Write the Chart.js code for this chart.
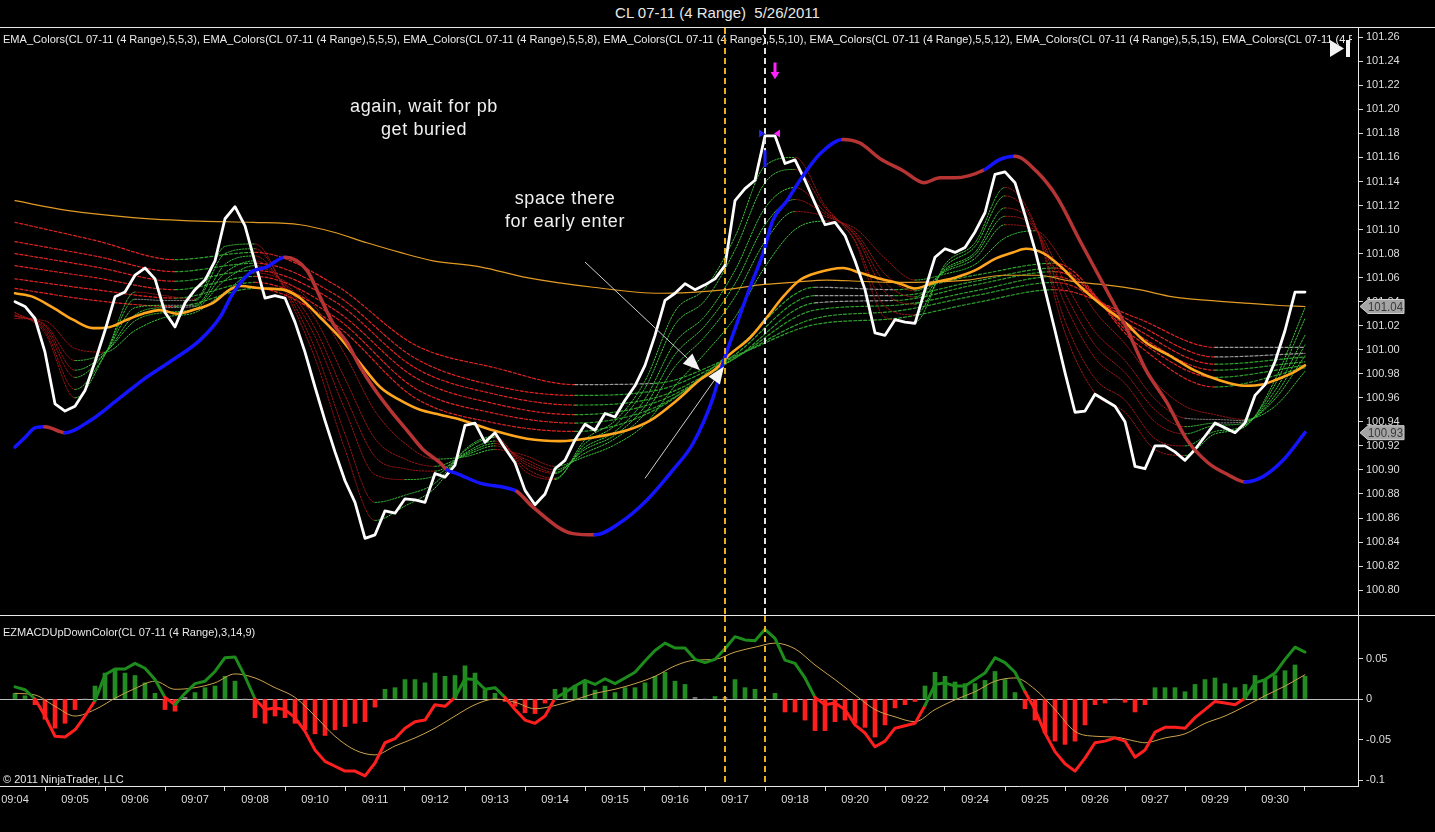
<!DOCTYPE html>
<html>
<head>
<meta charset="utf-8">
<title>CL 07-11 (4 Range) 5/26/2011</title>
<script src="https://cdn.jsdelivr.net/npm/chart.js@4.4.1/dist/chart.umd.min.js"></script>
<style>
  html, body { margin: 0; padding: 0; background: #000; }
  body { width: 1435px; height: 832px; position: relative; overflow: hidden; font-family: 'Liberation Sans', Arial, sans-serif; }
  #title { position: absolute; left: 0; top: 0; width: 1435px; height: 27px; line-height: 26px; text-align: center; color: #e8e8e8; font-size: 15px; white-space: pre; }
  .hr { position: absolute; left: 0; width: 1435px; height: 1px; background: #e8e8e8; }
  canvas { position: absolute; left: 0; }
</style>
</head>
<body>
<div id="title">CL 07-11 (4 Range)  5/26/2011</div>
<div class="hr" style="top:27px"></div>
<canvas id="price" width="1435" height="587" style="top:28px"></canvas>
<div class="hr" style="top:615px"></div>
<canvas id="macd" width="1435" height="216" style="top:616px"></canvas>
<script>
// x values are range-bar numbers (0 = first bar, 129 = last)
var timeTicks = [0, 6, 12, 18, 24, 30, 36, 42, 48, 54, 60, 66, 72, 78, 84, 90, 96, 102, 108, 114, 120, 126];
var timeLabels = ['09:04', '09:05', '09:06', '09:07', '09:08', '09:10', '09:11', '09:12', '09:13', '09:14', '09:15',
  '09:16', '09:17', '09:18', '09:20', '09:22', '09:24', '09:25', '09:26', '09:27', '09:29', '09:30'];
var priceTicks = [101.26, 101.24, 101.22, 101.20, 101.18, 101.16, 101.14, 101.12, 101.10, 101.08, 101.06, 101.04,
  101.02, 101.00, 100.98, 100.96, 100.94, 100.92, 100.90, 100.88, 100.86, 100.84, 100.82, 100.80];
var macdTicks = [0.05, 0, -0.05, -0.1];
var macdTickLabels = ['0.05', '0', '-0.05', '-0.1'];
var legendPeriods = [3, 5, 8, 10, 12, 15, 30];

// close of every bar
var closes = [101.040, 101.036, 101.026, 100.998, 100.955, 100.949, 100.953, 100.966, 100.990, 101.016,
  101.044, 101.048, 101.062, 101.068, 101.059, 101.031, 101.019, 101.039, 101.050, 101.058,
  101.074, 101.109, 101.119, 101.103, 101.073, 101.043, 101.045, 101.043, 101.023, 100.998,
  100.969, 100.941, 100.915, 100.891, 100.873, 100.843, 100.846, 100.866, 100.864, 100.876,
  100.875, 100.873, 100.897, 100.894, 100.904, 100.937, 100.939, 100.923, 100.931, 100.918,
  100.906, 100.883, 100.871, 100.880, 100.901, 100.908, 100.925, 100.938, 100.933, 100.947,
  100.944, 100.958, 100.970, 100.987, 101.012, 101.041, 101.047, 101.055, 101.050, 101.054,
  101.059, 101.070, 101.124, 101.134, 101.141, 101.178, 101.178, 101.155, 101.158, 101.141,
  101.122, 101.104, 101.106, 101.095, 101.074, 101.050, 101.014, 101.012, 101.025, 101.023,
  101.022, 101.050, 101.077, 101.084, 101.081, 101.085, 101.098, 101.114, 101.146, 101.148,
  101.139, 101.112, 101.083, 101.050, 101.016, 100.981, 100.948, 100.949, 100.963, 100.958,
  100.953, 100.940, 100.903, 100.901, 100.920, 100.920, 100.915, 100.908, 100.917, 100.928,
  100.939, 100.935, 100.931, 100.939, 100.962, 100.971, 100.990, 101.016, 101.048, 101.048];

// slow blue/red average
var slowX = [0, 1, 2, 3, 5, 7.5, 10.2, 12.8, 15.5, 18.5, 20.5, 21.8, 23.5, 25.2, 27, 29.2, 30.5, 31.8, 33.2, 34.5,
  35.8, 37.5, 39.2, 40.8, 42.5, 43.2, 44.2, 46.5, 49.2, 50.2, 51.8, 55.8, 58, 60.5, 63.2, 65.8, 67.8, 69.8, 70.8, 72.2,
  73.5, 74.8, 75.8, 77.2, 78.5, 80.5, 82.8, 84.5, 86.5, 88.8, 90.9, 92.5, 94, 97, 98.4, 100, 102.2, 104.2, 106.6, 109,
  111.1, 113.1, 115.2, 117.2, 119.3, 121.3, 123, 124.7, 126.8, 129];
var slowY = [100.919, 100.927, 100.935, 100.936, 100.931, 100.941, 100.958, 100.975, 100.990, 101.008,
  101.027, 101.047, 101.064, 101.069, 101.077, 101.066, 101.044, 101.022, 101.006, 100.986,
  100.969, 100.950, 100.933, 100.917, 100.906, 100.900, 100.897, 100.889, 100.885, 100.882,
  100.869, 100.847, 100.846, 100.856, 100.875, 100.900, 100.922, 100.960, 100.989, 101.022,
  101.052, 101.080, 101.108, 101.124, 101.141, 101.163, 101.175, 101.172, 101.159, 101.149,
  101.139, 101.143, 101.143, 101.150, 101.158, 101.161, 101.148, 101.127, 101.089, 101.052,
  101.019, 100.983, 100.956, 100.925, 100.906, 100.896, 100.890, 100.894, 100.908, 100.931];
// bar spans where the slow average is in its "up" state
var slowUp = [[0, 3], [5, 27], [43.2, 50.2], [58, 82.8], [97, 100], [123, 129]];

// thick orange average
var midX = [0, 1.8, 3.8, 5.8, 7.8, 9.5, 11.2, 12.8, 14.5, 16.2, 17.8, 19.8, 21.5, 22.5, 24.8, 26.8, 28.5, 30.5, 32.5, 34.5,
  36.5, 38.5, 40.5, 42.5, 44.5, 47.8, 51.2, 54.5, 57.8, 61.2, 63.5, 66.2, 68.5, 70.2, 71.2, 73.5, 75.2, 76.8, 78.5, 80.2,
  82.8, 84.5, 86.5, 88.5, 90, 91.9, 94, 96, 98.1, 99.8, 101.1, 102.9, 104.6, 106.6, 109, 111.1, 113.1, 115.5, 117.9, 120.3,
  123, 124.7, 126.1, 127.8, 129];
var midY = [101.047, 101.044, 101.035, 101.025, 101.018, 101.019, 101.025, 101.030, 101.033, 101.030,
  101.033, 101.039, 101.050, 101.053, 101.051, 101.050, 101.043, 101.027, 101.010, 100.989,
  100.969, 100.958, 100.950, 100.946, 100.942, 100.933, 100.926, 100.924, 100.927, 100.933,
  100.941, 100.958, 100.975, 100.985, 100.994, 101.010, 101.027, 101.044, 101.058, 101.064,
  101.068, 101.064, 101.059, 101.055, 101.051, 101.056, 101.060, 101.066, 101.076, 101.081,
  101.084, 101.080, 101.069, 101.052, 101.035, 101.022, 101.006, 100.995, 100.983, 100.975,
  100.970, 100.971, 100.975, 100.981, 100.987];

// thin orange long average
var longAvgX = [0, 5.2, 11.8, 18.5, 23.8, 28.5, 31.8, 35.2, 38.5, 41.8, 46.5, 51.2, 57.8, 64.5, 71.2, 74.5, 77.8, 81.2,
  84.5, 87.8, 95.3, 98.8, 102.2, 105.6, 109, 112.4, 115.8, 119.3, 122.7, 126.1, 129];
var longAvgY = [101.124, 101.116, 101.110, 101.107, 101.106, 101.104, 101.098, 101.089, 101.081, 101.074,
  101.069, 101.060, 101.052, 101.047, 101.050, 101.054, 101.056, 101.058, 101.057, 101.056,
  101.058, 101.062, 101.062, 101.057, 101.054, 101.050, 101.044, 101.041, 101.039, 101.037, 101.036];

// fast ribbon (EMA_Colors 3 ... 15)
var shortX = [0, 3, 6, 9, 12, 15, 18, 21, 24, 27, 30, 33, 36, 39, 42, 45, 48, 51, 54, 57, 60, 63, 66, 69, 72, 75,
  78, 81, 84, 87, 90, 93, 96, 99, 102, 105, 108, 111, 114, 117, 120, 123, 126, 129];
var ema3 = [101.031, 101.014, 100.960, 100.996, 101.048, 101.045, 101.042, 101.086, 101.088, 101.049, 100.993,
  100.917, 100.858, 100.870, 100.885, 100.917, 100.928, 100.899, 100.892, 100.925, 100.941, 100.974, 101.032,
  101.051, 101.094, 101.153, 101.160, 101.120, 101.090, 101.027, 101.023, 101.071, 101.089, 101.135, 101.104,
  101.014, 100.964, 100.948, 100.917, 100.912, 100.930, 100.936, 100.975, 101.035];
var ema5 = [101.031, 101.016, 100.967, 100.996, 101.042, 101.041, 101.041, 101.080, 101.084, 101.051, 101.001,
  100.930, 100.873, 100.879, 100.889, 100.916, 100.927, 100.902, 100.893, 100.922, 100.937, 100.968, 101.021,
  101.041, 101.083, 101.139, 101.150, 101.118, 101.091, 101.036, 101.029, 101.069, 101.086, 101.128, 101.103,
  101.024, 100.976, 100.958, 100.926, 100.920, 100.932, 100.937, 100.971, 101.026];
var ema8 = [101.029, 101.018, 100.977, 100.997, 101.035, 101.037, 101.037, 101.071, 101.078, 101.052, 101.011,
  100.950, 100.896, 100.892, 100.895, 100.914, 100.924, 100.905, 100.897, 100.919, 100.932, 100.959, 101.006,
  101.028, 101.066, 101.118, 101.135, 101.115, 101.095, 101.048, 101.038, 101.067, 101.081, 101.118, 101.102,
  101.038, 100.993, 100.972, 100.940, 100.930, 100.937, 100.939, 100.966, 101.012];
var ema10 = [101.028, 101.020, 100.983, 100.997, 101.029, 101.035, 101.036, 101.064, 101.074, 101.054, 101.018,
  100.962, 100.911, 100.901, 100.899, 100.913, 100.922, 100.907, 100.898, 100.917, 100.929, 100.953, 100.996,
  101.020, 101.055, 101.104, 101.125, 101.113, 101.096, 101.056, 101.044, 101.066, 101.079, 101.111, 101.101,
  101.047, 101.004, 100.981, 100.950, 100.936, 100.939, 100.940, 100.962, 101.004];
var ema12 = [101.028, 101.021, 100.991, 100.998, 101.024, 101.031, 101.034, 101.058, 101.070, 101.055, 101.026,
  100.976, 100.926, 100.909, 100.903, 100.912, 100.920, 100.909, 100.900, 100.914, 100.926, 100.947, 100.986,
  101.011, 101.044, 101.090, 101.115, 101.111, 101.098, 101.063, 101.049, 101.065, 101.076, 101.104, 101.100,
  101.056, 101.015, 100.991, 100.959, 100.943, 100.942, 100.941, 100.959, 100.995];
var ema15 = [101.026, 101.024, 101.001, 100.998, 101.016, 101.027, 101.031, 101.048, 101.064, 101.057, 101.036,
  100.996, 100.949, 100.922, 100.909, 100.911, 100.917, 100.912, 100.903, 100.911, 100.921, 100.938, 100.970,
  100.997, 101.027, 101.069, 101.100, 101.107, 101.101, 101.076, 101.058, 101.063, 101.071, 101.093, 101.099,
  101.071, 101.032, 101.005, 100.973, 100.953, 100.946, 100.942, 100.953, 100.982];

// slow ribbon (30 ... 60)
var longX = [0, 8, 16, 24, 32, 40, 48, 56, 64, 72, 80, 88, 96, 104, 112, 120, 129];
var ema30 = [101.051, 101.041, 101.036, 101.051, 101.021, 100.960, 100.939, 100.932, 100.950, 101.000, 101.052,
  101.050, 101.062, 101.072, 101.006, 100.969, 100.985];
var ema35 = [101.059, 101.050, 101.043, 101.056, 101.027, 100.968, 100.947, 100.939, 100.952, 100.996, 101.045,
  101.045, 101.057, 101.068, 101.010, 100.977, 100.987];
var ema40 = [101.070, 101.060, 101.050, 101.061, 101.033, 100.977, 100.955, 100.946, 100.956, 100.993, 101.039,
  101.041, 101.054, 101.065, 101.014, 100.983, 100.990];
var ema45 = [101.080, 101.069, 101.057, 101.066, 101.040, 100.985, 100.963, 100.954, 100.960, 100.993, 101.033,
  101.037, 101.049, 101.061, 101.018, 100.988, 100.994];
var ema50 = [101.090, 101.078, 101.065, 101.072, 101.046, 100.993, 100.970, 100.962, 100.966, 100.994, 101.026,
  101.032, 101.045, 101.056, 101.022, 100.994, 100.997];
var ema60 = [101.106, 101.091, 101.075, 101.081, 101.054, 101.004, 100.985, 100.971, 100.972, 100.995, 101.021,
  101.026, 101.039, 101.050, 101.027, 101.002, 101.002];

// EZMACD panel, one value per bar
var macdHist = [0.007, 0.004, -0.007, -0.025, -0.036, -0.030, -0.013, 0, 0.016, 0.032,
  0.037, 0.032, 0.029, 0.020, 0.007, -0.013, -0.015, 0.002, 0.008, 0.014,
  0.016, 0.028, 0.022, 0, -0.023, -0.030, -0.021, -0.023, -0.030, -0.038,
  -0.043, -0.045, -0.038, -0.034, -0.030, -0.028, -0.010, 0.012, 0.014, 0.024,
  0.024, 0.020, 0.032, 0.028, 0.029, 0.041, 0.032, 0.011, 0.007, -0.003,
  -0.009, -0.017, -0.018, -0.005, 0.012, 0.014, 0.017, 0.023, 0.011, 0.016,
  0.008, 0.014, 0.014, 0.020, 0.028, 0.033, 0.022, 0.018, 0.002, 0,
  0.003, 0.002, 0.024, 0.014, 0.012, 0, 0.007, -0.016, -0.016, -0.026,
  -0.039, -0.039, -0.028, -0.026, -0.030, -0.035, -0.047, -0.032, -0.011, -0.007,
  -0.003, 0.016, 0.033, 0.028, 0.021, 0.019, 0.019, 0.023, 0.034, 0.024,
  0.008, -0.012, -0.026, -0.042, -0.052, -0.056, -0.052, -0.032, -0.007, -0.005,
  0, -0.004, -0.016, -0.007, 0.014, 0.014, 0.014, 0.009, 0.018, 0.024,
  0.026, 0.019, 0.014, 0.018, 0.029, 0.024, 0.029, 0.035, 0.042, 0.028];
var macdLine = [0.015, 0.0115, 0, -0.021, -0.046, -0.047, -0.038, -0.021, -0.002, 0.030,
  0.037, 0.037, 0.044, 0.038, 0.024, 0.002, -0.007, 0.007, 0.019, 0.022,
  0.034, 0.051, 0.052, 0.028, 0, -0.013, -0.011, -0.013, -0.023, -0.040,
  -0.063, -0.077, -0.083, -0.089, -0.089, -0.095, -0.079, -0.054, -0.049, -0.036,
  -0.028, -0.026, -0.007, -0.009, 0.002, 0.025, 0.024, 0.012, 0.014, 0.002,
  -0.013, -0.026, -0.030, -0.021, 0.001, 0.008, 0.016, 0.023, 0.018, 0.025,
  0.019, 0.026, 0.033, 0.047, 0.060, 0.069, 0.063, 0.063, 0.049, 0.045,
  0.049, 0.062, 0.077, 0.073, 0.072, 0.086, 0.075, 0.048, 0.044, 0.026,
  0.002, -0.007, -0.005, -0.013, -0.032, -0.042, -0.059, -0.052, -0.036, -0.033,
  -0.030, -0.008, 0.018, 0.020, 0.016, 0.016, 0.024, 0.032, 0.051, 0.045,
  0.033, 0.009, -0.013, -0.042, -0.065, -0.080, -0.089, -0.073, -0.054, -0.052,
  -0.048, -0.052, -0.072, -0.063, -0.041, -0.035, -0.035, -0.036, -0.023, -0.013,
  -0.003, -0.005, -0.007, 0.001, 0.020, 0.024, 0.032, 0.049, 0.064, 0.058];
var signalX = [0, 2, 4, 6, 8, 10, 12, 14, 16, 18, 20, 22, 24, 26, 28, 30, 32, 34, 36, 38, 40, 42, 44, 46, 48, 50,
  52, 54, 56, 58, 60, 62, 64, 66, 68, 70, 72, 74, 76, 78, 80, 82, 84, 86, 88, 90, 92, 94, 96, 98, 100, 102, 104,
  106, 108, 110, 112, 113, 115, 117, 119, 121, 123, 125, 127, 129];
var signalY = [0.007, 0.005, -0.009, -0.021, -0.013, 0.001, 0.013, 0.022, 0.012, 0.014, 0.020, 0.031, 0.026,
  0.014, 0.002, -0.021, -0.046, -0.063, -0.069, -0.058, -0.048, -0.036, -0.021, -0.007, 0.000, -0.004, -0.012,
  -0.008, -0.001, 0.007, 0.012, 0.019, 0.028, 0.041, 0.048, 0.049, 0.058, 0.064, 0.069, 0.062, 0.042, 0.024,
  0.005, -0.013, -0.022, -0.028, -0.013, -0.001, 0.009, 0.022, 0.026, 0.012, -0.013, -0.040, -0.046, -0.047,
  -0.052, -0.054, -0.048, -0.043, -0.030, -0.021, -0.009, 0.004, 0.016, 0.030];

var entryBar = 71, signalBar = 75;

// bar k sits at 15 + 10k px inside a 1358 px wide plot
var X_MIN = -1.5, X_MAX = 134.3;
var P_MIN = 100.7793, P_MAX = 101.2677;
var M_MIN = -0.1074, M_MAX = 0.1025;

var FONT = '"Liberation Sans", Arial, sans-serif';
var axisFont = { family: FONT, size: 11 };
var YELLOW = '#e9b21d';

function pts(xs, ys) { return xs.map(function (x, i) { return { x: x, y: ys[i] }; }); }
function perBar(ys) { return ys.map(function (y, i) { return { x: i, y: y }; }); }

function trend(up, down, flat) {
  return function (ctx) {
    var s = (ctx.p1.parsed.y - ctx.p0.parsed.y) / (ctx.p1.parsed.x - ctx.p0.parsed.x);
    return s > 0.0004 ? up : (s < -0.0004 ? down : flat);
  };
}
function slowIsUp(k) {
  return slowUp.some(function (r) { return k >= r[0] && k <= r[1]; });
}

function xAxis(show) {
  return {
    type: 'linear', min: X_MIN, max: X_MAX, display: show, offset: false,
    afterBuildTicks: function (s) { s.ticks = timeTicks.map(function (v) { return { value: v }; }); },
    afterFit: function (s) { s.paddingLeft = 0; s.paddingRight = 0; if (show) s.height = 46; },
    grid: { drawOnChartArea: false, drawTicks: true, tickLength: 5, color: '#d8d8d8' },
    border: { display: true, color: '#e8e8e8' },
    ticks: { color: '#dedede', font: axisFont, padding: 2, maxRotation: 0, autoSkip: false,
      callback: function (v, i) { return timeLabels[i]; } }
  };
}
function yAxis(min, max, list, fmt, zero) {
  return {
    type: 'linear', position: 'right', min: min, max: max,
    afterBuildTicks: function (s) { s.ticks = list.map(function (v) { return { value: v }; }); },
    afterFit: function (s) { s.width = 77; s.paddingTop = 0; s.paddingBottom = 0; },
    grid: { drawOnChartArea: zero, drawTicks: true, tickLength: 5, tickColor: '#d8d8d8',
      color: function (c) { return (zero && c.tick && c.tick.value === 0) ? '#bcbcbc' : 'rgba(0,0,0,0)'; } },
    border: { display: true, color: '#e8e8e8' },
    ticks: { color: '#dedede', font: axisFont, padding: 3, callback: fmt }
  };
}

function vDashed(ctx, x, top, bottom, color) {
  ctx.save();
  ctx.strokeStyle = color; ctx.lineWidth = 2; ctx.setLineDash([6, 4]);
  ctx.beginPath(); ctx.moveTo(Math.round(x), top); ctx.lineTo(Math.round(x), bottom); ctx.stroke();
  ctx.restore();
}
function arrow(ctx, x0, y0, x1, y1) {
  var a = Math.atan2(y1 - y0, x1 - x0), L = 17, W = 7;
  var bx = x1 - L * Math.cos(a), by = y1 - L * Math.sin(a);
  ctx.strokeStyle = '#cfcfcf'; ctx.lineWidth = 1;
  ctx.beginPath(); ctx.moveTo(x0, y0); ctx.lineTo(bx, by); ctx.stroke();
  ctx.fillStyle = '#f4f4f4';
  ctx.beginPath(); ctx.moveTo(x1, y1);
  ctx.lineTo(bx + W * Math.sin(a), by - W * Math.cos(a));
  ctx.lineTo(bx - W * Math.sin(a), by + W * Math.cos(a));
  ctx.closePath(); ctx.fill();
}
function priceTag(ctx, x, y, text) {
  ctx.fillStyle = '#a4a4a4'; ctx.strokeStyle = '#d2d2d2'; ctx.lineWidth = 1;
  ctx.beginPath();
  ctx.moveTo(x, y); ctx.lineTo(x + 8, y - 7); ctx.lineTo(x + 44, y - 7);
  ctx.lineTo(x + 44, y + 7); ctx.lineTo(x + 8, y + 7); ctx.closePath();
  ctx.fill(); ctx.stroke();
  ctx.fillStyle = '#3a3a3a'; ctx.font = '13px ' + FONT;
  ctx.textAlign = 'left'; ctx.textBaseline = 'middle';
  ctx.fillText(text, x + 8, y + 1, 35);
}

var notes = [
  { k: 40.9, p: 101.202, text: 'again, wait for pb' },
  { k: 40.9, p: 101.183, text: 'get buried' },
  { k: 55.0, p: 101.125, text: 'space there' },
  { k: 55.0, p: 101.106, text: 'for early enter' }
];
var arrows = [
  { k0: 57, p0: 101.073, k1: 68.5, p1: 100.983 },
  { k0: 63, p0: 100.893, k1: 70.9, p1: 100.986 }
];

var priceOverlay = {
  id: 'priceOverlay',
  afterDraw: function (chart) {
    var ctx = chart.ctx, a = chart.chartArea, x = chart.scales.x, y = chart.scales.y;
    var px = function (k) { return x.getPixelForValue(k); };
    var py = function (v) { return y.getPixelForValue(v); };

    // indicator caption, clipped by the price axis
    ctx.save();
    ctx.beginPath(); ctx.rect(a.left, a.top, a.right - a.left - 6, 30); ctx.clip();
    ctx.font = '11px ' + FONT; ctx.fillStyle = '#ececec'; ctx.textBaseline = 'middle';
    var names = legendPeriods.map(function (p) { return 'EMA_Colors(CL 07-11 (4 Range),5,5,' + p + ')'; });
    var six = names.slice(0, 6).join(', ') + ', ';
    var sx = 1219 / ctx.measureText(six).width;
    ctx.translate(3, 12); ctx.scale(sx, 1);
    ctx.fillText(names.join(', '), 0, 0);
    ctx.restore();

    ctx.save();
    ctx.font = '18px ' + FONT; ctx.fillStyle = '#f0f0f0';
    ctx.letterSpacing = '0.6px';
    ctx.textAlign = 'center'; ctx.textBaseline = 'middle';
    notes.forEach(function (n) { ctx.fillText(n.text, px(n.k), py(n.p)); });
    ctx.restore();
    ctx.save();
    arrows.forEach(function (r) { arrow(ctx, px(r.k0), py(r.p0), px(r.k1), py(r.p1)); });
    ctx.restore();

    vDashed(ctx, px(entryBar), a.top, a.bottom, YELLOW);
    vDashed(ctx, px(signalBar), a.top, a.bottom, '#e4e4e4');

    // signal markers at the top bar
    ctx.save();
    var ty = py(101.180);
    ctx.fillStyle = '#2020ff';
    ctx.beginPath(); ctx.moveTo(px(74.4), ty - 4); ctx.lineTo(px(74.4), ty + 4); ctx.lineTo(px(74.4) + 6, ty); ctx.fill();
    ctx.fillRect(px(75) - 1.5, py(101.166), 3, py(101.152) - py(101.166));
    ctx.fillStyle = '#ff22ff';
    ctx.beginPath(); ctx.moveTo(px(76.5), ty - 4); ctx.lineTo(px(76.5), ty + 4); ctx.lineTo(px(76.5) - 6, ty); ctx.fill();
    var ax = px(76);
    ctx.fillRect(ax - 1.5, py(101.239), 3, py(101.231) - py(101.239));
    ctx.beginPath(); ctx.moveTo(ax - 4.5, py(101.231)); ctx.lineTo(ax + 4.5, py(101.231)); ctx.lineTo(ax, py(101.225)); ctx.fill();
    ctx.restore();

    // play button in the corner
    ctx.save();
    ctx.fillStyle = '#f4f4f4';
    ctx.beginPath(); ctx.moveTo(1330, 12); ctx.lineTo(1330, 29); ctx.lineTo(1344, 20.5); ctx.fill();
    ctx.fillRect(1346, 12, 4, 17);
    ctx.restore();

    // last value tags on the price axis
    ctx.save();
    var thin = longAvgY[longAvgY.length - 1], slow = slowY[slowY.length - 1];
    priceTag(ctx, a.right + 2, py(thin), thin.toFixed(2));
    priceTag(ctx, a.right + 2, py(slow), slow.toFixed(2));
    ctx.restore();
  }
};

var macdOverlay = {
  id: 'macdOverlay',
  afterDraw: function (chart) {
    var ctx = chart.ctx, a = chart.chartArea, x = chart.scales.x;
    vDashed(ctx, x.getPixelForValue(entryBar), a.top, a.bottom, YELLOW);
    vDashed(ctx, x.getPixelForValue(signalBar), a.top, a.bottom, YELLOW);
    ctx.save();
    ctx.font = '11px ' + FONT; ctx.fillStyle = '#e8e8e8';
    ctx.textAlign = 'left'; ctx.textBaseline = 'middle';
    ctx.fillText('EZMACDUpDownColor(CL 07-11 (4 Range),3,14,9)', 3, 17, 255);
    ctx.fillText('\u00a9 2011 NinjaTrader, LLC', 3, 164, 125);
    ctx.restore();
  }
};

function line(data, opts) {
  var d = { type: 'line', data: data, pointRadius: 0, borderWidth: 1, fill: false,
    cubicInterpolationMode: 'monotone', borderCapStyle: 'round', borderJoinStyle: 'round' };
  for (var key in opts) d[key] = opts[key];
  return d;
}

var ribbon = [];
[ema3, ema5, ema8, ema10, ema12, ema15].forEach(function (arr, i) {
  ribbon.push(line(pts(shortX, arr), {
    borderColor: '#30b030', borderDash: [1.5, 1.5], order: 10 + i,
    segment: { borderColor: trend('#3cc23c', '#a01616', '#8c8c8c') }
  }));
});
[ema30, ema35, ema40, ema45, ema50, ema60].forEach(function (arr, i) {
  ribbon.push(line(pts(longX, arr), {
    borderColor: '#d82020', borderDash: [3, 2], borderWidth: 1.2, order: 20 + i,
    segment: { borderColor: trend('#2fa02f', '#e02424', '#9a9a9a') }
  }));
});

new Chart(document.getElementById('price'), {
  type: 'line',
  data: {
    datasets: [
      line(pts(slowX, slowY), { borderWidth: 3.5, order: 0, borderColor: '#1414ff',
        segment: { borderColor: function (c) { return slowIsUp((c.p0.parsed.x + c.p1.parsed.x) / 2) ? '#1414ff' : '#b73434'; } } }),
      line(perBar(closes), { borderWidth: 2.8, borderColor: '#ffffff', order: 1, cubicInterpolationMode: 'default', tension: 0 }),
      line(pts(midX, midY), { borderWidth: 2.6, borderColor: '#ffa61e', order: 2 }),
      line(pts(longAvgX, longAvgY), { borderWidth: 1.2, borderColor: '#e09a24', order: 3 })
    ].concat(ribbon)
  },
  options: {
    responsive: false, animation: false,
    layout: { padding: 0 },
    plugins: { legend: { display: false }, tooltip: { enabled: false } },
    scales: {
      x: xAxis(false),
      y: yAxis(P_MIN, P_MAX, priceTicks, function (v) { return Number(v).toFixed(2); }, false)
    }
  },
  plugins: [priceOverlay]
});

new Chart(document.getElementById('macd'), {
  type: 'line',
  data: {
    datasets: [
      line(perBar(macdLine), { borderWidth: 3, order: 0, cubicInterpolationMode: 'default', tension: 0,
        borderColor: '#1d8c1d',
        segment: { borderColor: function (c) { return (c.p0.parsed.y + c.p1.parsed.y) / 2 < 0 ? '#ff1f1f' : '#1d8c1d'; } } }),
      line(pts(signalX, signalY), { borderWidth: 1, borderColor: '#c9a14c', order: 1 }),
      {
        type: 'bar', data: perBar(macdHist), order: 2, barThickness: 4,
        backgroundColor: function (c) {
          var v = c.raw ? c.raw.y : 0;
          if (Math.abs(v) < 0.003) return '#7a7a7a';
          return v > 0 ? '#228b22' : '#ff1e1e';
        }
      }
    ]
  },
  options: {
    responsive: false, animation: false,
    layout: { padding: 0 },
    plugins: { legend: { display: false }, tooltip: { enabled: false } },
    scales: {
      x: xAxis(true),
      y: yAxis(M_MIN, M_MAX, macdTicks, function (v, i) { return macdTickLabels[i]; }, true)
    }
  },
  plugins: [macdOverlay]
});
</script>
</body>
</html>
